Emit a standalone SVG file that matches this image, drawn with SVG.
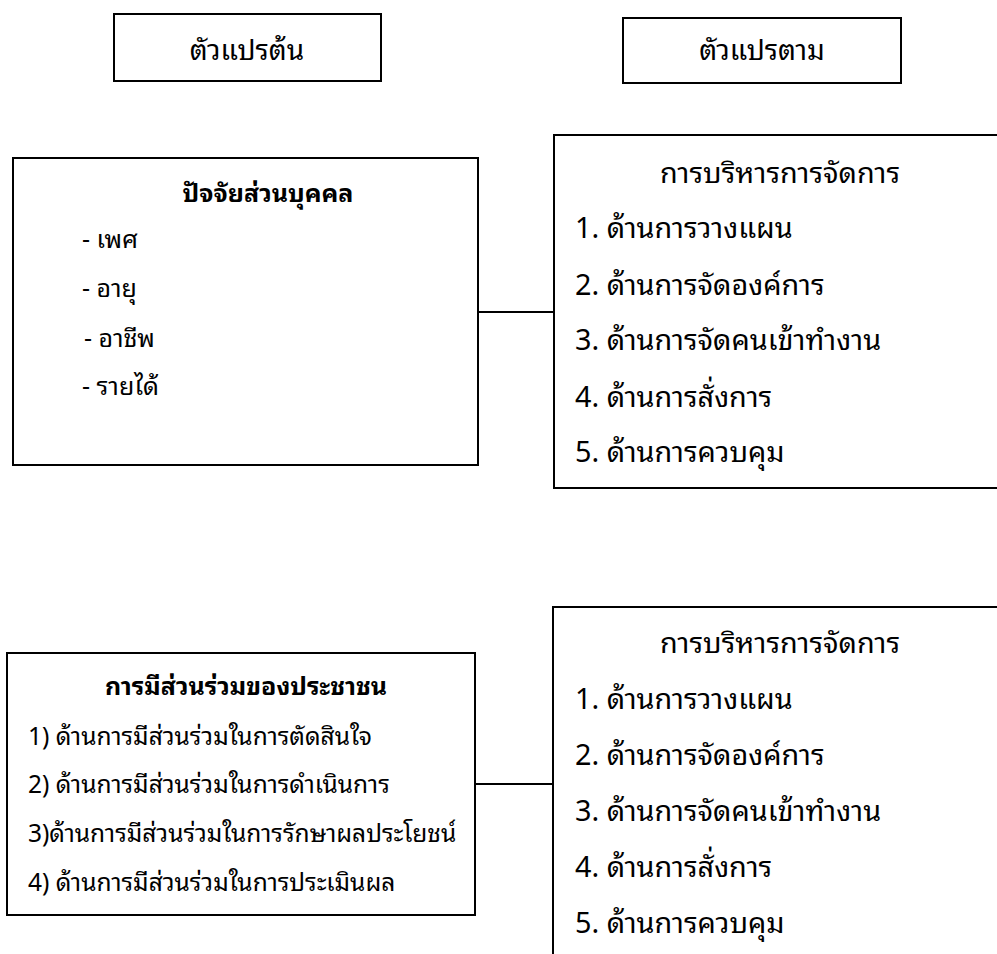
<svg xmlns="http://www.w3.org/2000/svg" width="997" height="954" viewBox="0 0 997 954">
<style>
.box{fill:#fff;stroke:#000;stroke-width:2}
.conn{stroke:#000;stroke-width:2;fill:none}
text{font-family:"Noto Sans Thai Looped","Noto Sans Thai","Tahoma","Leelawadee UI","Noto Sans","DejaVu Sans",sans-serif;fill:#000}
.h{font-size:28px}
.t{font-size:25px}
.b{font-size:25px;font-weight:bold}
.m{font-size:28.8px}
.s{font-size:24.5px}
.sb{font-size:25px;font-weight:bold}
</style>
<rect width="997" height="954" fill="#fff"/>
<g id="header-independent">
<rect class="box" x="114" y="14" width="267" height="67"/>
<text class="h" x="247" y="60" text-anchor="middle">ตัวแปรต้น</text>
</g>
<g id="header-dependent">
<rect class="box" x="623" y="18" width="278" height="65"/>
<text class="h" x="762" y="60" text-anchor="middle">ตัวแปรตาม</text>
</g>
<g id="personal-factors">
<rect class="box" x="13" y="158" width="465" height="307"/>
<text class="b" x="268" y="202" text-anchor="middle">ปัจจัยส่วนบุคคล</text>
<text class="t" x="82" y="248">- เพศ</text>
<text class="t" x="82" y="297">- อายุ</text>
<text class="t" x="84" y="347">- อาชีพ</text>
<text class="t" x="82" y="395">- รายได้</text>
</g>
<g id="management-1">
<rect class="box" x="554" y="135" width="460" height="353"/>
<text class="m" x="780" y="183" text-anchor="middle">การบริหารการจัดการ</text>
<text class="m" x="575" y="238">1. ด้านการวางแผน</text>
<text class="m" x="575" y="295">2. ด้านการจัดองค์การ</text>
<text class="m" x="575" y="350">3. ด้านการจัดคนเข้าทำงาน</text>
<text class="m" x="575" y="407">4. ด้านการสั่งการ</text>
<text class="m" x="575" y="462">5. ด้านการควบคุม</text>
</g>
<g id="participation">
<rect class="box" x="7" y="653" width="468" height="262"/>
<text class="sb" x="246" y="695" text-anchor="middle">การมีส่วนร่วมของประชาชน</text>
<text class="s" x="28" y="745">1) ด้านการมีส่วนร่วมในการตัดสินใจ</text>
<text class="s" x="28" y="793">2) ด้านการมีส่วนร่วมในการดำเนินการ</text>
<text class="s" x="28" y="842">3)ด้านการมีส่วนร่วมในการรักษาผลประโยชน์</text>
<text class="s" x="28" y="891">4) ด้านการมีส่วนร่วมในการประเมินผล</text>
</g>
<g id="management-2">
<rect class="box" x="553" y="607" width="460" height="360"/>
<text class="m" x="780" y="653" text-anchor="middle">การบริหารการจัดการ</text>
<text class="m" x="575" y="709">1. ด้านการวางแผน</text>
<text class="m" x="575" y="765">2. ด้านการจัดองค์การ</text>
<text class="m" x="575" y="821">3. ด้านการจัดคนเข้าทำงาน</text>
<text class="m" x="575" y="877">4. ด้านการสั่งการ</text>
<text class="m" x="575" y="933">5. ด้านการควบคุม</text>
</g>
<g id="connectors">
<line class="conn" x1="478" y1="312" x2="554" y2="312"/>
<line class="conn" x1="475" y1="784" x2="553" y2="784"/>
</g>
</svg>
